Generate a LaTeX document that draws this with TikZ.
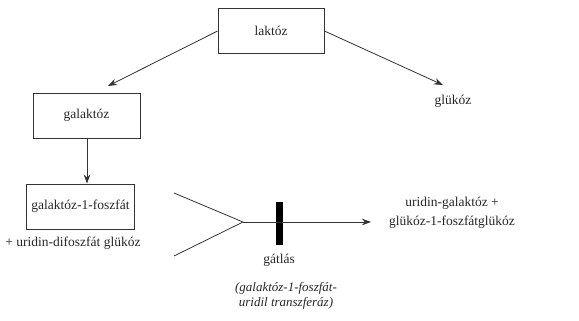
\documentclass[tikz,border=0pt]{standalone}
\usepackage{fontspec}
\setmainfont{Liberation Serif}
\usetikzlibrary{arrows.meta}
\begin{document}
\begin{tikzpicture}[x=1pt,y=-1pt,
  every node/.style={font=\fontsize{13.5}{15}\selectfont, text=black!85},
  box/.style={draw=black!80, line width=0.8pt, minimum width=#1, minimum height=45pt, inner sep=0pt},
  conn/.style={draw=black!80, line width=0.8pt},
  arr/.style={conn, -{Stealth[length=9pt,width=6.5pt]}}]
\useasboundingbox (0,0) rectangle (579,321);
\node[box=106pt] (lak) at (271,30.5) {laktóz};
\node[box=107pt] (gal) at (86.5,115.5) {galaktóz};
\node[box=108pt] (g1p) at (80.5,206.5) {galaktóz-1-foszfát};
\node (glu) at (453,101) {glükóz};
\node (udp) at (73,243) {+ uridin-difoszfát glükóz};
\coordinate (f1) at (174,193);
\coordinate (f2) at (174,256);
\coordinate (fj) at (243,222);
\coordinate (ae) at (371,222);
\node[fill=black, minimum width=7pt, minimum height=43pt, inner sep=0pt] (bar) at (279,223.5) {};
\node (gat) at (279,260) {gátlás};
\node[align=center, font=\fontsize{13}{15}\itshape] (enz) at (286,295.5) {(galaktóz-1-foszfát-\\uridil transzferáz)};
\node[align=center, font=\fontsize{13.5}{19}\selectfont] (prod) at (452,212.5) {uridin-galaktóz +\\glükóz-1-foszfátglükóz};
\draw[arr] (lak.west |- 0,31) -- (108,86);
\draw[arr] (lak.east |- 0,31) -- (443,85);
\draw[arr] (gal.south -| 87,0) -- (g1p.north -| 87,0);
\draw[conn] (f1) -- (fj) -- (f2);
\draw[arr] (fj) -- (ae);
\end{tikzpicture}
\end{document}
